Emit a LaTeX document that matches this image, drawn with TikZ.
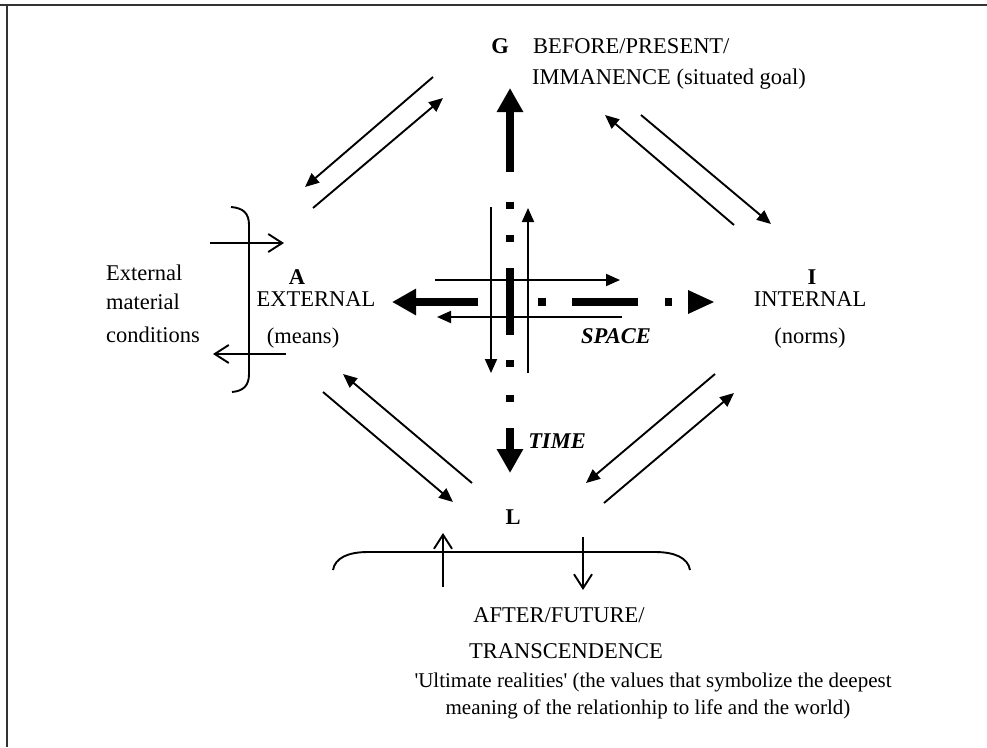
\documentclass[tikz,border=0pt]{standalone}
\usepackage{fontspec}
\setmainfont{Liberation Serif}[Ligatures=TeXOff]
\usetikzlibrary{arrows.meta}
\newcommand\fsz{\fontsize{22.5}{27}\selectfont}
\newcommand\fszs{\fontsize{21}{25}\selectfont}
\begin{document}
\begin{tikzpicture}[x=1pt,y=-1pt,
  txt/.style={inner sep=0pt, text height=15pt, text depth=0pt, font=\fsz},
  stxt/.style={txt, font=\fszs},
  btxt/.style={txt, font=\fsz\bfseries},
  bitxt/.style={txt, font=\fsz\bfseries\itshape},
  thinarr/.style={line width=1.9pt, -{Triangle[length=14pt,width=12pt]}},
  openarr/.style={line width=1.9pt, -{Straight Barb[length=14pt,width=18pt]}},
  heavy/.style={line width=8.5pt, -{Triangle[length=24pt,width=25pt]}},
  seg/.style={line width=8.5pt},
  brk/.style={line width=1.9pt},
  frame/.style={line width=2pt, draw=black!80}]
\useasboundingbox (0,0) rectangle (987,747);
% frame
\draw[frame] (0,4.5) -- (987,4.5);
\draw[frame] (6.5,4.5) -- (6.5,747);

% texts
\node[btxt] (G) at (500,46) {G};
\node[txt, anchor=west] (before) at (533,46) {BEFORE/PRESENT/};
\node[txt, anchor=west] (imm) at (532,77) {IMMANENCE (situated goal)};
\node[btxt] (A) at (297,277) {A};
\node[txt] (ext) at (316,299) {EXTERNAL};
\node[txt] (means) at (303,336) {(means)};
\node[btxt] (I) at (812,277) {I};
\node[txt] (int) at (810,299) {INTERNAL};
\node[txt] (norms) at (810,336) {(norms)};
\node[txt, anchor=west] (e1) at (106,273) {External};
\node[txt, anchor=west] (e2) at (106,302) {material};
\node[txt, anchor=west] (e3) at (106,335) {conditions};
\node[btxt] (L) at (513,517) {L};
\node[bitxt] (space) at (616,336) {SPACE};
\node[bitxt] (time) at (557,441) {TIME};
\node[txt] (after) at (559,615) {AFTER/FUTURE/};
\node[txt] (trans) at (566,651) {TRANSCENDENCE};
\node[stxt] (ult) at (653,680) {'Ultimate realities' (the values that symbolize the deepest};
\node[stxt] (mean) at (648,707) {meaning of the relationhip to life and the world)};

% coordinates
\coordinate (ul1s) at (433,77);  \coordinate (ul1e) at (305,187);
\coordinate (ul2s) at (313,208); \coordinate (ul2e) at (443,98);
\coordinate (ur1s) at (734,225); \coordinate (ur1e) at (605,115);
\coordinate (ur2s) at (641,115); \coordinate (ur2e) at (771,224);
\coordinate (lr1s) at (715,374); \coordinate (lr1e) at (586,483);
\coordinate (lr2s) at (604,503); \coordinate (lr2e) at (734,393);
\coordinate (ll1s) at (472,483); \coordinate (ll1e) at (343,374);
\coordinate (ll2s) at (323,392); \coordinate (ll2e) at (453,502);

\draw[thinarr] (ul1s) -- (ul1e);
\draw[thinarr] (ul2s) -- (ul2e);
\draw[thinarr] (ur1s) -- (ur1e);
\draw[thinarr] (ur2s) -- (ur2e);
\draw[thinarr] (lr1s) -- (lr1e);
\draw[thinarr] (lr2s) -- (lr2e);
\draw[thinarr] (ll1s) -- (ll1e);
\draw[thinarr] (ll2s) -- (ll2e);

% vertical dotted axis (time)
\coordinate (gS) at (510,172); \coordinate (gT) at (510,88);
\draw[heavy] (gS) -- (gT);
\draw[seg] (510,202) -- (510,209);
\draw[seg] (510,235) -- (510,242);
\draw[seg] (510,268) -- (510,335);
\draw[seg] (510,360) -- (510,367);
\draw[seg] (510,395) -- (510,402);
\coordinate (tS) at (510,428); \coordinate (tT) at (510,473);
\draw[heavy] (tS) -- (tT);

% horizontal dotted axis (space)
\coordinate (aS) at (478,302); \coordinate (aT) at (392,302);
\draw[heavy] (aS) -- (aT);
\draw[seg] (538,302) -- (546,302);
\draw[seg] (572,302) -- (638,302);
\draw[seg] (665,302) -- (672,302);
\fill (688,290) -- (714,302) -- (688,314) -- cycle;

% thin central arrows
\coordinate (hr1) at (435,280); \coordinate (hr2) at (620,280);
\coordinate (hl1) at (622,317); \coordinate (hl2) at (437,317);
\coordinate (vd1) at (491,207); \coordinate (vd2) at (491,373);
\coordinate (vu1) at (528,373); \coordinate (vu2) at (528,208);
\draw[thinarr] (hr1) -- (hr2);
\draw[thinarr] (hl1) -- (hl2);
\draw[thinarr] (vd1) -- (vd2);
\draw[thinarr] (vu1) -- (vu2);

% left bracket and arrows
\draw[brk] (231,207) .. controls (243,208) and (249,213) .. (249,225) -- (249,374) .. controls (249,386) and (243,391) .. (232,392);
\coordinate (er1) at (210,243); \coordinate (er2) at (284,243);
\coordinate (el1) at (286,354); \coordinate (el2) at (213,354);
\draw[openarr] (er1) -- (er2);
\draw[openarr] (el1) -- (el2);

% bottom brace and arrows
\draw[brk] (333,570) .. controls (335,558) and (348,552) .. (368,552) -- (655,552) .. controls (675,552) and (688,558) .. (690,570);
\coordinate (bu1) at (443,587); \coordinate (bu2) at (443,533);
\coordinate (bd1) at (583,537); \coordinate (bd2) at (583,590);
\draw[openarr] (bu1) -- (bu2);
\draw[openarr] (bd1) -- (bd2);
\end{tikzpicture}
\end{document}
